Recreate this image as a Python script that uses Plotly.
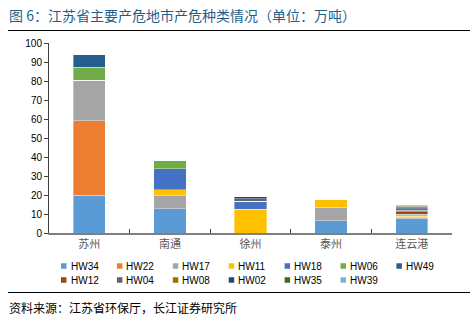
import plotly.graph_objects as go

cities = ["苏州", "南通", "徐州", "泰州", "连云港"]

# Hazardous waste output by category, 10k tonnes
HW34 = [20.0, 12.8, 0.0, 6.5, 7.5]
HW22 = [39.0, 0.0, 0.0, 0.0, 0.0]
HW17 = [21.5, 6.7, 0.0, 7.0, 0.5]
HW11 = [0.0, 3.3, 12.6, 3.9, 0.9]
HW18 = [0.0, 11.0, 4.2, 0.0, 0.3]
HW06 = [6.8, 4.6, 0.0, 0.0, 0.3]
HW49 = [6.6, 0.0, 0.0, 0.0, 0.3]
HW12 = [0.0, 0.0, 0.0, 0.0, 1.5]
HW04 = [0.0, 0.0, 1.3, 0.0, 0.6]
HW08 = [0.0, 0.0, 0.0, 0.0, 0.9]
HW02 = [0.0, 0.0, 0.9, 0.0, 0.5]
HW35 = [0.0, 0.0, 0.0, 0.0, 0.8]
HW39 = [0.0, 0.0, 0.0, 0.0, 0.6]

series = [
    ("HW34", HW34, "#5b9bd5"),
    ("HW22", HW22, "#ed7d31"),
    ("HW17", HW17, "#a5a5a5"),
    ("HW11", HW11, "#ffc000"),
    ("HW18", HW18, "#4472c4"),
    ("HW06", HW06, "#70ad47"),
    ("HW49", HW49, "#255e91"),
    ("HW12", HW12, "#9e480e"),
    ("HW04", HW04, "#636363"),
    ("HW08", HW08, "#997300"),
    ("HW02", HW02, "#264478"),
    ("HW35", HW35, "#43682b"),
    ("HW39", HW39, "#7cafdd"),
]

y_ticks = list(range(0, 101, 10))

font_cjk = "Noto Sans CJK SC"
font_lat = "Liberation Sans, Arial"

W, H = 476, 322
ML, MR, MT, MB = 49, 24, 43, 89
PW, PH = W - ML - MR, H - MT - MB


def px(xp):
    """Pixel x -> paper x."""
    return (xp - ML) / PW


def py(yp):
    """Pixel y -> paper y."""
    return (H - MB - yp) / PH


fig = go.Figure()
for name, vals, color in series:
    fig.add_trace(go.Bar(
        x=cities, y=vals, name=name,
        marker=dict(color=color, line=dict(color="rgba(255,255,255,0.6)", width=0.6)),
        width=0.4,
    ))

fig.update_layout(
    barmode="stack",
    width=W, height=H,
    margin=dict(l=ML, r=MR, t=MT, b=MB, autoexpand=False),
    paper_bgcolor="white", plot_bgcolor="white",
    font=dict(family=font_cjk, size=10, color="#404040"),
    showlegend=False,
    xaxis=dict(
        showline=True, linecolor="#7f7f7f", linewidth=2,
        ticks="inside", ticklen=4, tickcolor="#404040", tickson="boundaries",
        tickfont=dict(family=font_cjk, size=11, color="#595959"),
        showgrid=False,
    ),
    yaxis=dict(
        range=[0, 100], tickvals=y_ticks,
        showline=True, linecolor="#404040", linewidth=1,
        ticks="outside", ticklen=4, tickcolor="#404040",
        tickfont=dict(family=font_lat, size=10, color="#000000"),
        showgrid=False, zeroline=False,
    ),
)

# Legend: two rows of colour swatches with labels
shapes = []
annotations = []
per_row = 7
for i, (name, _, color) in enumerate(series):
    r, c = divmod(i, per_row)
    sx = 61 + c * 55.9
    sy = 266 + r * 14
    shapes.append(dict(
        type="rect", xref="paper", yref="paper",
        x0=px(sx), x1=px(sx + 5.5), y0=py(sy - 2.75), y1=py(sy + 2.75),
        fillcolor=color, line=dict(width=0),
    ))
    annotations.append(dict(
        text=name, xref="paper", yref="paper",
        x=px(sx + 7.5), y=py(sy), xanchor="left", yanchor="middle",
        font=dict(family=font_lat, size=10, color="#000000"),
        showarrow=False,
    ))

# Header and footer rules
shapes.append(dict(type="line", xref="paper", yref="paper",
                   x0=px(8), x1=px(470), y0=py(30.5), y1=py(30.5),
                   line=dict(color="#000000", width=1)))
shapes.append(dict(type="line", xref="paper", yref="paper",
                   x0=px(8), x1=px(470), y0=py(292.5), y1=py(292.5),
                   line=dict(color="#000000", width=1)))

annotations.append(dict(
    text="图 6：江苏省主要产危地市产危种类情况（单位：万吨）",
    xref="paper", yref="paper", x=px(7), y=py(15),
    xanchor="left", yanchor="middle",
    font=dict(family=font_cjk, size=14, color="#1f5f8b"),
    showarrow=False,
))
annotations.append(dict(
    text="资料来源：江苏省环保厅，长江证券研究所",
    xref="paper", yref="paper", x=px(7), y=py(307),
    xanchor="left", yanchor="middle",
    font=dict(family=font_cjk, size=12, color="#000000"),
    showarrow=False,
))

fig.update_layout(shapes=shapes, annotations=annotations)

fig.write_html("out.html")
